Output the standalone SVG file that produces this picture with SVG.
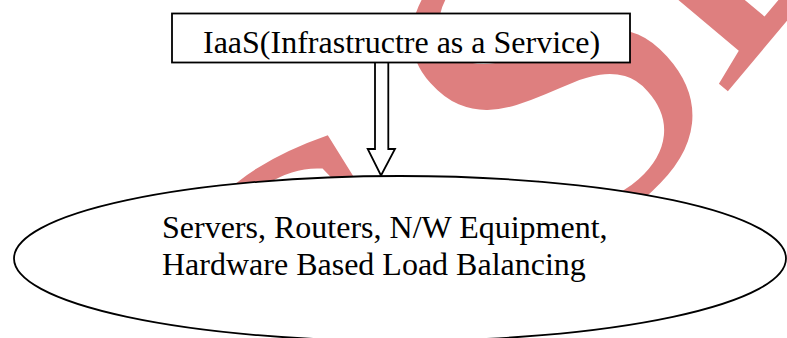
<svg xmlns="http://www.w3.org/2000/svg" width="787" height="338" viewBox="0 0 787 338">
<style>
.wm{font-family:"Liberation Serif","Times New Roman",serif;font-size:453px;fill:#DE7F7F}
.lbl{font-family:"Liberation Serif","Times New Roman",serif;font-size:32px;fill:#000}
.shape{fill:#fff;stroke:#000;stroke-width:1.8}
</style>
<rect width="787" height="338" fill="#fff"/>
<g id="watermark">
<text class="wm" transform="translate(305,492) rotate(-32)">S</text>
<text class="wm" transform="translate(558,270) rotate(-42)">S</text>
<text class="wm" transform="translate(719.5,101.2) rotate(-50)">E</text>
</g>
<g id="connectors">
<path class="shape" d="M375,63 V149 H367.7 L381,175.5 L395,149 H388.3 V63"/>
</g>
<g id="node-iaas">
<rect class="shape" x="172" y="13.5" width="458" height="49"/>
<text class="lbl" x="203" y="52.5">IaaS(Infrastructre as a Service)</text>
</g>
<g id="node-hardware">
<ellipse class="shape" cx="400" cy="258.5" rx="386" ry="82.5"/>
<text class="lbl" x="162" y="238">Servers, Routers, N/W Equipment,</text>
<text class="lbl" x="162" y="275">Hardware Based Load Balancing</text>
</g>
</svg>
